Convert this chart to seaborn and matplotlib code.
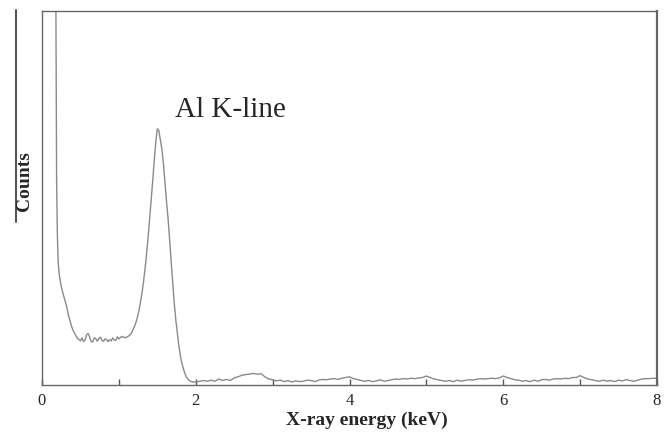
import numpy as np
import pandas as pd
import matplotlib
matplotlib.use("Agg")
import matplotlib.pyplot as plt
from matplotlib.lines import Line2D
from matplotlib.ticker import MultipleLocator
import seaborn as sns

# EDS spectrum (energy in keV, counts in arbitrary units)
# low energy tail
e_tail = [0.17, 0.18, 0.185, 0.19, 0.20, 0.21, 0.225, 0.24, 0.26, 0.28, 0.30,
          0.32, 0.34, 0.36, 0.38, 0.40, 0.42, 0.44, 0.46, 0.48]
c_tail = [130, 105, 80, 55, 40, 33, 29.5, 27.5, 25.5, 24, 22.5,
          21, 19, 17.5, 16, 14.8, 14, 13.2, 12.5, 12.2]

# noisy plateau before the Al peak
e_plateau = [0.50, 0.52, 0.54, 0.56, 0.58, 0.60, 0.62, 0.64, 0.66, 0.68, 0.70,
             0.72, 0.74, 0.76, 0.78, 0.80, 0.82, 0.84, 0.86, 0.88, 0.90, 0.92,
             0.94, 0.96, 0.98, 1.00, 1.02, 1.04, 1.06, 1.08]
c_plateau = [11.8, 12.6, 11.6, 12.0, 13.4, 13.8, 12.8, 11.6, 11.5, 12.6, 12.4,
             11.7, 12.4, 12.8, 11.9, 11.7, 12.3, 12.2, 11.6, 12.1, 11.8, 12.6,
             12.0, 11.9, 12.9, 12.3, 12.7, 13.0, 12.8, 12.6]

# Al K-line peak
e_peak = [1.10, 1.12, 1.14, 1.16, 1.18, 1.20, 1.22, 1.24, 1.26, 1.28, 1.30,
          1.32, 1.34, 1.36, 1.38, 1.40, 1.42, 1.44, 1.46, 1.48, 1.50, 1.52,
          1.54, 1.56, 1.58, 1.60, 1.62, 1.64, 1.66, 1.68, 1.70, 1.72, 1.74,
          1.76, 1.78, 1.80, 1.82, 1.84, 1.86, 1.88, 1.90, 1.93, 1.96]
c_peak = [12.8, 13.0, 13.3, 13.8, 14.6, 15.5, 16.6, 18, 19.8, 22, 24.5,
          27.5, 31, 35, 39.5, 44.5, 49.5, 54.5, 60, 65, 68.5, 68,
          65.5, 63, 59, 54, 49, 44.5, 39, 33, 27.5, 22, 17.5,
          14, 10.5, 7.8, 5.8, 4.3, 3.0, 2.1, 1.5, 1.0, 0.8]

# flat background 2-8 keV
e_bg = [2.00, 2.05, 2.10, 2.15, 2.20, 2.25, 2.30, 2.35, 2.40, 2.45, 2.50,
        2.55, 2.60, 2.65, 2.70, 2.75, 2.80, 2.85, 2.90, 2.95, 3.00, 3.05,
        3.10, 3.15, 3.20, 3.25, 3.30, 3.35, 3.40, 3.45, 3.50, 3.55, 3.60,
        3.65, 3.70, 3.75, 3.80, 3.85, 3.90, 3.95, 4.00, 4.05, 4.10, 4.15,
        4.20, 4.25, 4.30, 4.35, 4.40, 4.45, 4.50, 4.55, 4.60, 4.65, 4.70,
        4.75, 4.80, 4.85, 4.90, 4.95, 5.00, 5.05, 5.10, 5.15, 5.20, 5.25,
        5.30, 5.35, 5.40, 5.45, 5.50, 5.55, 5.60, 5.65, 5.70, 5.75, 5.80,
        5.85, 5.90, 5.95, 6.00, 6.05, 6.10, 6.15, 6.20, 6.25, 6.30, 6.35,
        6.40, 6.45, 6.50, 6.55, 6.60, 6.65, 6.70, 6.75, 6.80, 6.85, 6.90,
        6.95, 7.00, 7.05, 7.10, 7.15, 7.20, 7.25, 7.30, 7.35, 7.40, 7.45,
        7.50, 7.55, 7.60, 7.65, 7.70, 7.75, 7.80, 7.85, 7.90, 7.95, 8.00]
c_bg = [0.8, 1.0, 1.2, 1.0, 1.3, 1.0, 1.6, 1.2, 1.5, 1.2, 1.9,
        2.2, 2.6, 2.8, 2.9, 3.1, 2.9, 3.0, 2.2, 1.6, 1.4, 1.1,
        1.3, 0.9, 1.2, 0.8, 1.1, 0.9, 1.0, 1.3, 1.2, 0.9, 1.3,
        1.5, 1.4, 1.6, 1.7, 1.5, 1.8, 2.0, 2.2, 1.7, 1.5, 1.2,
        1.0, 1.2, 0.9, 1.1, 1.4, 1.0, 1.2, 1.4, 1.6, 1.5, 1.7,
        1.6, 1.8, 1.7, 1.9, 2.0, 2.4, 2.0, 1.6, 1.4, 1.2, 1.0,
        1.2, 0.9, 1.3, 1.0, 1.2, 1.4, 1.3, 1.5, 1.7, 1.6, 1.7,
        1.8, 1.7, 1.9, 2.4, 2.0, 1.7, 1.4, 1.3, 1.0, 1.2, 0.9,
        1.3, 1.0, 1.4, 1.5, 1.3, 1.6, 1.7, 1.6, 1.8, 1.7, 2.0,
        2.0, 2.5, 2.0, 1.6, 1.4, 1.2, 1.0, 1.3, 1.0, 1.2, 0.9,
        1.3, 1.1, 1.4, 1.2, 1.0, 1.3, 1.6, 1.7, 1.7, 1.8, 1.8]

x_ticks = [0, 2, 4, 6, 8]
peak_label = "Al K-line"

df = pd.DataFrame({
    "energy": e_tail + e_plateau + e_peak + e_bg,
    "counts": c_tail + c_plateau + c_peak + c_bg,
})

sns.set_style("ticks")
plt.rcParams["font.family"] = ["Liberation Serif", "DejaVu Serif"]

W, H = 668, 432
fig = plt.figure(figsize=(W / 100, H / 100), dpi=100)
ax = fig.add_axes([42 / W, 1 - 385 / H, 615 / W, 374 / H])

sns.lineplot(data=df, x="energy", y="counts", ax=ax, color="#8a8a8a",
             linewidth=1.0, sort=False)

ax.set_xlim(0, 8)
ax.set_ylim(0, 100)
ax.set_xticks(x_ticks)
ax.xaxis.set_minor_locator(MultipleLocator(1))
ax.tick_params(axis="x", which="both", direction="in", length=4, width=1,
               color="#555555", labelsize=12, pad=6)
ax.set_yticks([])
for side in ["left", "right", "top", "bottom"]:
    ax.spines[side].set_visible(True)
    ax.spines[side].set_color("#666666")
    ax.spines[side].set_linewidth(1.0)
ax.spines["right"].set_linewidth(1.6)
ax.set_xlabel("")
ax.set_ylabel("")

# axis titles, placed where the original has them
fig.text(367 / W, 1 - 420 / H, "X-ray energy (keV)", fontsize=14,
         fontweight="bold", ha="center", va="center")
fig.text(25 / W, 1 - 181 / H, "Counts", fontsize=14, fontweight="bold",
         rotation=90, ha="center", va="center")

ax.text(1.73, 71.7, peak_label, fontsize=21, ha="left", va="baseline")

# the short rule beside the y label
fig.add_artist(Line2D([16 / W, 16 / W], [1 - 10 / H, 1 - 222 / H],
                      transform=fig.transFigure, color="#555555", linewidth=1.5))

fig.savefig("out.png", dpi=100)
